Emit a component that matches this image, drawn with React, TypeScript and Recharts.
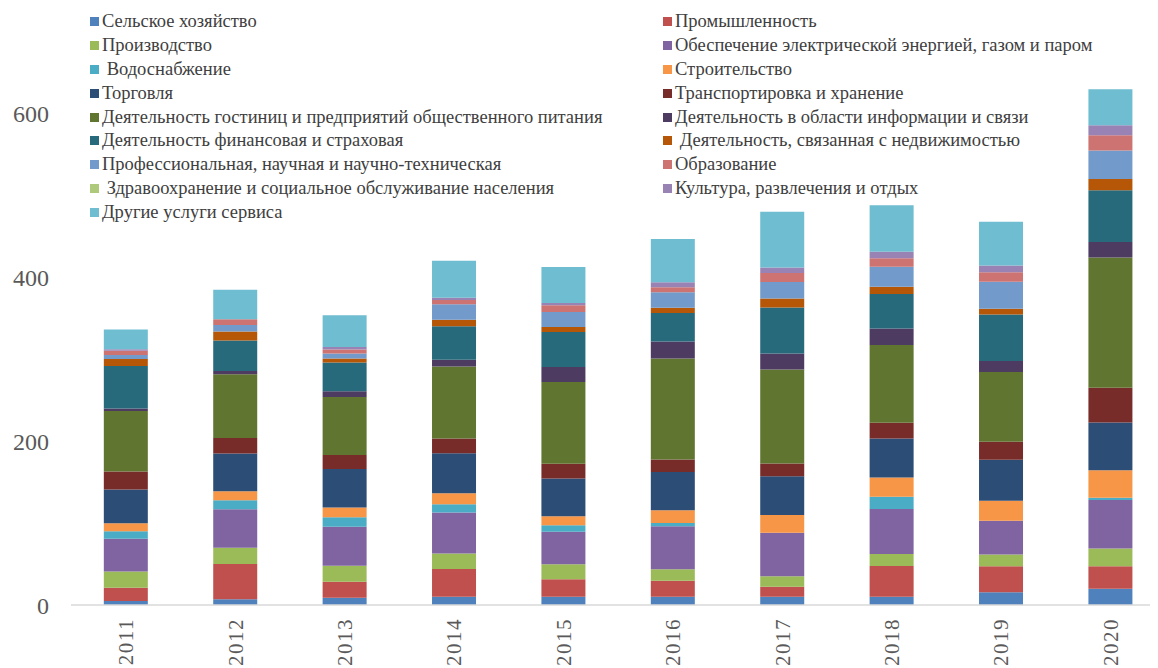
import { BarChart, Bar, XAxis, YAxis } from "recharts";

const years = ["2011", "2012", "2013", "2014", "2015", "2016", "2017", "2018", "2019", "2020"];

const agriculture = [5, 7, 9, 10, 10, 10, 10, 10, 15.6, 19.7];
const industry = [16, 43, 19.5, 34, 21.6, 19.5, 12.2, 37.5, 31.6, 27.6];
const manufacturing = [20, 20, 19.5, 19, 18.3, 14.3, 13, 14.7, 14.4, 21.7];
const energy = [40, 47, 47.6, 50, 39.5, 52.5, 53, 55, 41.2, 59.3];
const water = [9, 11, 11.5, 10, 8, 4, 0, 15, 0, 2.6];
const construction = [10, 11, 12, 13.5, 11, 15.5, 21.6, 23.7, 24.7, 33.7];
const trade = [41, 46, 47, 49, 46, 46.8, 47.6, 47.6, 50, 58.4];
const transport = [22, 19, 17, 18, 18.3, 15, 15.5, 19, 21.9, 42.3];
const hotels = [74, 78, 71, 88, 99.7, 123.4, 114.8, 95, 85.2, 159.2];
const info = [3, 4, 7, 8, 18.3, 21, 19.5, 20.4, 13.6, 18.9];
const finance = [52, 37, 35, 41, 42.8, 34.6, 56.2, 42, 56.7, 63.3];
const realty = [8.5, 11, 5, 8, 6, 6.6, 11, 9, 7, 13.6];
const science = [5, 8, 6, 19, 18.3, 19, 20.3, 24.4, 33, 34.9];
const education = [5, 7, 5, 5, 8.5, 6, 11, 10.2, 11.5, 18.6];
const health = [0, 0, 0, 0, 0, 0, 0, 0, 0, 0];
const culture = [2, 0, 3, 3, 2.5, 6, 6.6, 8, 8.2, 12.3];
const otherServices = [24, 36, 39, 45, 44, 53, 68, 57, 53.5, 44];

const series = [
  { key: "s1", name: "Сельское хозяйство", color: "#4F81BD", values: agriculture },
  { key: "s2", name: "Промышленность", color: "#C0504D", values: industry },
  { key: "s3", name: "Производство", color: "#9BBB59", values: manufacturing },
  { key: "s4", name: "Обеспечение электрической энергией, газом и паром", color: "#8064A2", values: energy },
  { key: "s5", name: " Водоснабжение", color: "#4BACC6", values: water },
  { key: "s6", name: "Строительство", color: "#F79646", values: construction },
  { key: "s7", name: "Торговля", color: "#2C4D75", values: trade },
  { key: "s8", name: "Транспортировка и хранение", color: "#772C2A", values: transport },
  { key: "s9", name: "Деятельность гостиниц и предприятий общественного питания", color: "#5F7530", values: hotels },
  { key: "s10", name: "Деятельность в области информации и связи", color: "#4D3B62", values: info },
  { key: "s11", name: "Деятельность финансовая и страховая", color: "#276A7C", values: finance },
  { key: "s12", name: " Деятельность, связанная с недвижимостью", color: "#B65708", values: realty },
  { key: "s13", name: "Профессиональная, научная и научно-техническая", color: "#729ACA", values: science },
  { key: "s14", name: "Образование", color: "#CD7371", values: education },
  { key: "s15", name: " Здравоохранение и социальное обслуживание населения", color: "#AFC97A", values: health },
  { key: "s16", name: "Культура, развлечения и отдых", color: "#9983B5", values: culture },
  { key: "s17", name: "Другие услуги сервиса", color: "#6FBDD1", values: otherServices },
];

const yTicks = [0, 200, 400, 600];

const data = years.map((year, i) => {
  const row: Record<string, string | number> = { year };
  series.forEach((s) => {
    row[s.key] = s.values[i];
  });
  return row;
});

const font = "'Liberation Serif', 'Times New Roman', serif";

function YearTick(props: any) {
  const { x, y, payload } = props;
  return (
    <text
      transform={`translate(${x},${y + 11}) rotate(-90)`}
      textAnchor="end"
      dy="0.36em"
      fill="#595959"
      fontSize={21}
      fontFamily={font}
      letterSpacing={1.5}
    >
      {payload.value}
    </text>
  );
}

export default function App() {
  return (
    <div style={{ position: "relative", width: 1150, height: 660, overflow: "hidden", fontFamily: font }}>
      <BarChart
        width={1157}
        height={660}
        data={data}
        margin={{ top: 24, right: 0, bottom: 0, left: 0 }}
        barCategoryGap="30%"
      >
        <XAxis
          dataKey="year"
          height={63}
          tickLine={false}
          tickSize={0}
          axisLine={{ stroke: "#D9D9D9", strokeWidth: 1.5 }}
          tick={<YearTick />}
          interval={0}
        />
        <YAxis
          width={63}
          domain={[0, 700]}
          ticks={yTicks}
          axisLine={false}
          tickLine={false}
          tickSize={0}
          tickMargin={22}
          tick={{ fill: "#595959", fontSize: 24, fontFamily: font }}
        />
        {series.map((s) => (
          <Bar key={s.key} dataKey={s.key} name={s.name} stackId="a" fill={s.color} isAnimationActive={false} />
        ))}
      </BarChart>
      <div
        style={{
          position: "absolute",
          left: 82,
          top: 2,
          display: "grid",
          gridTemplateColumns: "573px auto",
          gridAutoRows: "23.8px",
          alignItems: "center",
          fontSize: 18.5,
          color: "#404040",
          whiteSpace: "pre",
        }}
      >
        {series.map((s) => (
          <div key={s.key} style={{ display: "flex", alignItems: "center" }}>
            <span style={{ display: "inline-block", width: 9, height: 9, background: s.color, marginRight: 3 }} />
            <span>{s.name}</span>
          </div>
        ))}
      </div>
    </div>
  );
}
